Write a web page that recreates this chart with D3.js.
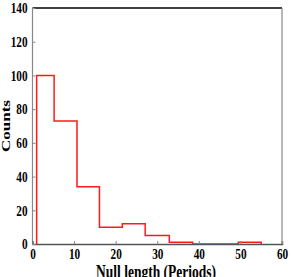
<!DOCTYPE html>
<html>
<head>
<meta charset="utf-8">
<script src="https://d3js.org/d3.v7.min.js"></script>
<style>
	body { margin: 0; background: #fff; }
	text { font-family: "Liberation Serif", "Times New Roman", serif; font-weight: bold; }
</style>
</head>
<body>
<script>
	// histogram of null lengths
	var binEdges = [1, 5.2, 10.7, 16.1, 21.6, 27.1, 32.9, 38.5, 44, 49.5, 55];
	var counts = [100, 73, 34, 10, 12, 5, 1, 0, 0, 1];
	var xTicks = [0, 10, 20, 30, 40, 50, 60];
	var yTicks = [0, 20, 40, 60, 80, 100, 120, 140];

	var width = 291, height = 277;
	var margin = {top: 8, left: 32.5, right: 9, bottom: 33};
	var squeeze = 0.75; // glyphs look narrow in the original

	var svg = d3.select("body").append("svg")
		.attr("width", width)
		.attr("height", height);

	var x = d3.scaleLinear().domain([0, 60]).range([margin.left, width - margin.right]);
	var y = d3.scaleLinear().domain([0, 140]).range([height - margin.bottom, margin.top]);

	// frame
	svg.append("line").attr("x1", x(0)).attr("x2", x(60)).attr("y1", y(140)).attr("y2", y(140))
		.attr("stroke", "#000").attr("stroke-width", 1.5);
	svg.append("line").attr("x1", x(60)).attr("x2", x(60)).attr("y1", y(140)).attr("y2", y(0))
		.attr("stroke", "#888").attr("stroke-width", 1.2);
	svg.append("line").attr("x1", x(0)).attr("x2", x(0)).attr("y1", y(140)).attr("y2", y(0))
		.attr("stroke", "#888").attr("stroke-width", 1.2);

	// step outline
	var pts = [[binEdges[0], 0]];
	counts.forEach(function(c, i) {
		pts.push([binEdges[i], c]);
		pts.push([binEdges[i + 1], c]);
	});
	pts.push([binEdges[binEdges.length - 1], 0]);

	var line = d3.line()
		.x(function(d) { return x(d[0]); })
		.y(function(d) { return y(d[1]); });

	svg.append("path")
		.attr("d", line(pts))
		.attr("fill", "none")
		.attr("stroke", "#ff1a1a")
		.attr("stroke-width", 1.5);

	// bottom axis
	var xAxis = svg.append("g")
		.attr("transform", "translate(0," + y(0) + ")")
		.call(d3.axisBottom(x).tickValues(xTicks).tickSize(-3).tickPadding(4));
	xAxis.select(".domain").attr("stroke", "#555").attr("stroke-width", 1.5);
	xAxis.selectAll(".tick line").attr("stroke", "#888");
	xAxis.selectAll("text")
		.attr("font-size", 15)
		.attr("fill", "#000")
		.attr("transform", "scale(" + squeeze + ",1)");

	// left axis
	var yAxis = svg.append("g")
		.attr("transform", "translate(" + x(0) + ",0)")
		.call(d3.axisLeft(y).tickValues(yTicks).tickSize(-3).tickPadding(5));
	yAxis.select(".domain").remove();
	yAxis.selectAll(".tick line").attr("stroke", "#888");
	yAxis.selectAll("text")
		.attr("font-size", 15)
		.attr("fill", "#000")
		.attr("x", -5 / squeeze)
		.attr("transform", "scale(" + squeeze + ",1)");

	svg.append("text")
		.attr("transform", "translate(10,126) rotate(-90) scale(1," + squeeze + ")")
		.attr("text-anchor", "middle")
		.attr("font-size", 17)
		.text("Counts");

	svg.append("text")
		.attr("transform", "translate(156,278) scale(" + squeeze + ",1)")
		.attr("text-anchor", "middle")
		.attr("font-size", 18)
		.text("Null length (Periods)");
</script>
</body>
</html>
